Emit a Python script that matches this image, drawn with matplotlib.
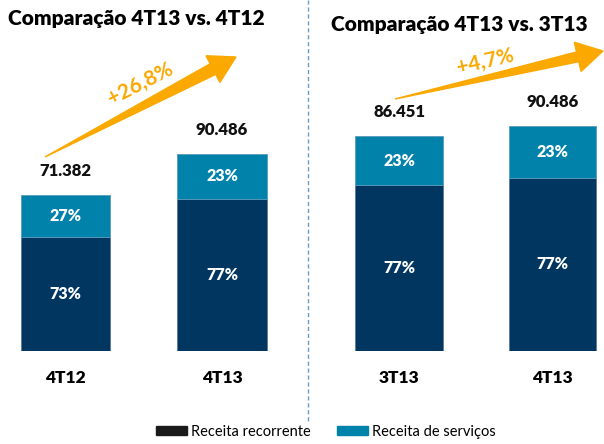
import numpy as np
import matplotlib.pyplot as plt
from matplotlib.patches import Polygon, Patch
from matplotlib.lines import Line2D

plt.rcParams['font.family'] = ['Lato', 'DejaVu Sans']

# dados (R$ mil)
titulos = ["Comparação 4T13 vs. 4T12", "Comparação 4T13 vs. 3T13"]
cat_esq = ["4T12", "4T13"]
cat_dir = ["3T13", "4T13"]
total_esq = [71.382, 90.486]
total_dir = [86.451, 90.486]
pct_rec_esq = [73, 77]
pct_rec_dir = [77, 77]
crescimento = ["+26,8%", "+4,7%"]
series = ["Receita recorrente", "Receita de serviços"]

cor_rec = "#003660"
cor_serv = "#0082AB"
laranja = "#FBA800"

W, H = 604, 444
fig = plt.figure(figsize=(W / 100, H / 100), dpi=100)

def fx(px):
    return px / W

def fy(py):
    return 1 - py / H

def painel(x0, x1, centro0, passo, ytop, cats, totais, pcts, largura):
    base = 351
    ax = fig.add_axes([fx(x0), fy(base), fx(x1 - x0), (base - 20) / H])
    ax.set_xlim((x0 - centro0) / passo, (x1 - centro0) / passo)
    ax.set_ylim(0, ytop)
    x = np.arange(len(cats))
    rec = np.array(totais) * np.array(pcts) / 100
    serv = np.array(totais) - rec
    ax.bar(x, rec, width=largura, color=cor_rec, edgecolor="#5a7a99", linewidth=0.6)
    ax.bar(x, serv, bottom=rec, width=largura, color=cor_serv, edgecolor="#5a9ab8", linewidth=0.6)
    for i in range(len(cats)):
        ax.text(x[i], rec[i] / 2, f"{pcts[i]}%", ha="center", va="center",
                color="white", fontsize=11.5, fontweight="heavy")
        ax.text(x[i], rec[i] + serv[i] / 2, f"{100 - pcts[i]}%", ha="center", va="center",
                color="white", fontsize=11.5, fontweight="heavy")
        ax.text(x[i], totais[i], f"{totais[i]:.3f}\n", ha="center", va="bottom",
                color="#111111", fontsize=12, fontweight="heavy", linespacing=1.0)
    ax.set_xticks(x)
    ax.set_xticklabels(cats, fontsize=12.5, fontweight="heavy")
    ax.tick_params(length=0, pad=14)
    for s in ax.spines.values():
        s.set_visible(False)
    ax.set_yticks([])
    return ax

ax1 = painel(0, 300, 65.5, 156.5, 331 / 2.18, cat_esq, total_esq, pct_rec_esq, 0.57)
ax2 = painel(310, 604, 399, 153.5, 331 / 2.487, cat_dir, total_dir, pct_rec_dir, 0.57)

# titulos
fig.text(fx(136), fy(18), titulos[0], ha="center", va="center", fontsize=15, fontweight="heavy")
fig.text(fx(459), fy(24), titulos[1], ha="center", va="center", fontsize=15, fontweight="heavy")

# linha divisoria
fig.add_artist(Line2D([fx(308), fx(308)], [fy(0), fy(422)], color="#6a9ac8",
                      lw=1, linestyle=(0, (3, 2)), transform=fig.transFigure))

def seta(p0, p1, haste, cab_larg, cab_comp):
    p0 = np.array(p0, float)
    p1 = np.array(p1, float)
    d = (p1 - p0) / np.linalg.norm(p1 - p0)
    n = np.array([-d[1], d[0]])
    b = p1 - d * cab_comp
    pts = [p0,
           b + n * haste / 2,
           b + n * cab_larg / 2,
           p1,
           b - n * cab_larg / 2,
           b - n * haste / 2]
    pts = [(fx(p[0]), fy(p[1])) for p in pts]
    fig.add_artist(Polygon(pts, closed=True, color=laranja, transform=fig.transFigure))

seta((45, 157), (236, 57), 12, 30, 26)
seta((395, 99), (603, 51), 10, 30, 26)

fig.text(fx(140), fy(84), crescimento[0], ha="center", va="center", rotation=27,
         color=laranja, fontsize=15, fontweight="bold")
fig.text(fx(485), fy(62), crescimento[1], ha="center", va="center", rotation=13,
         color=laranja, fontsize=15, fontweight="bold")

handles = [Patch(color="#1a1a1a"), Patch(color=cor_serv)]
fig.legend(handles, series, loc="center", bbox_to_anchor=(fx(326), fy(432)), ncol=2,
           frameon=False, fontsize=10.5, handlelength=2.1, handleheight=0.55,
           handletextpad=0.3, columnspacing=1.8)

fig.savefig("out.png", dpi=100)
